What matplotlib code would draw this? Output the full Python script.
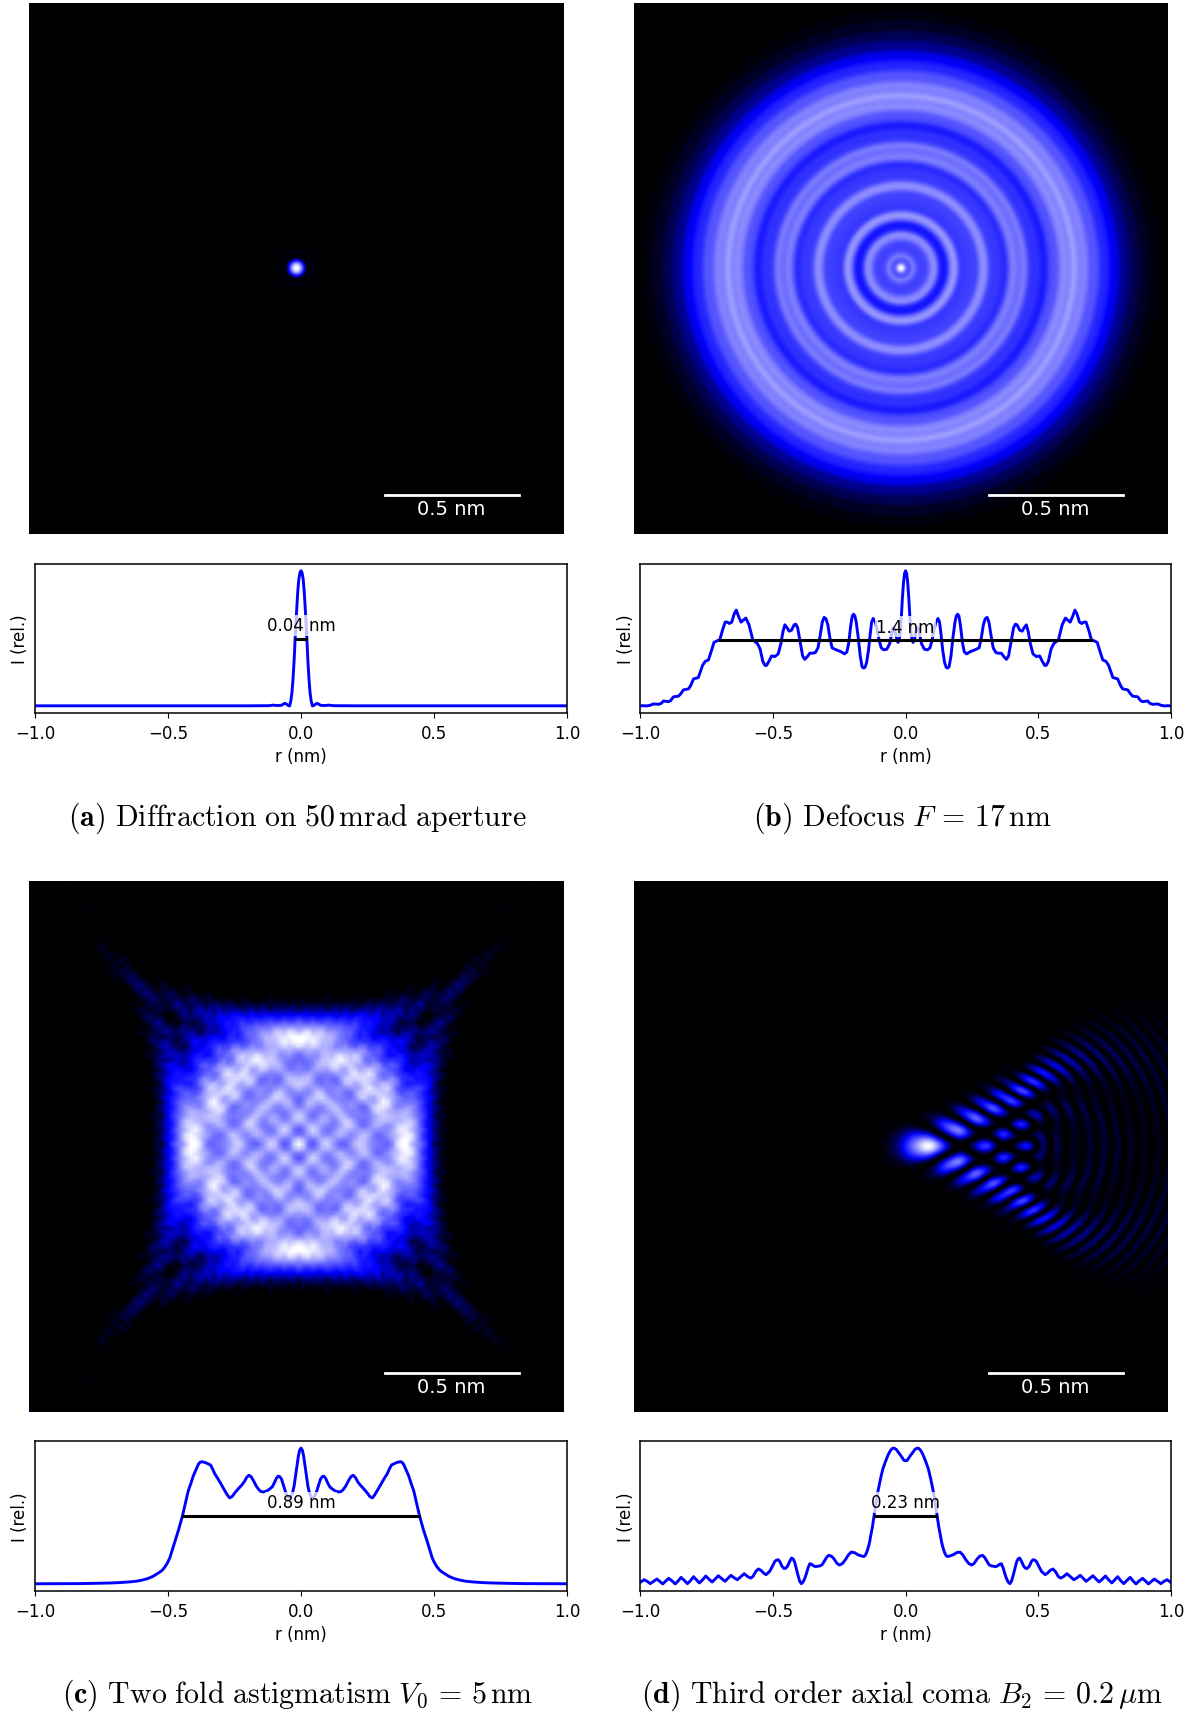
import numpy as np
import matplotlib
matplotlib.use("Agg")
import matplotlib.pyplot as plt
from matplotlib.colors import LinearSegmentedColormap

plt.rcParams['mathtext.fontset'] = 'cm'
plt.rcParams['font.family'] = 'DejaVu Sans'

# Radial profiles (|r| in nm, relative intensity)
r_a = [0, .004, .008, .012, .016, .019, .022, .026, .030, .034, .038, .043, .050, .055, .059, .063, .066, .070, .075, .09, .105, .12, .2, 1.0]
I_a = [1, .985, .94, .85, .72, .61, .50, .33, .20, .10, .04, .00, .006, .014, .018, .018, .014, .009, .004, .003, .006, .002, .001, .001]

r_b = [0, .004, .008, .012, .016, .020, .024, .028, .032, .038, .044, .049, .054, .060, .0706, .082, .092, .100, .108, .114, .122, .128, .134, .140, .147, .153, .158, .164, .171, .178, .186, .191, .196, .201, .207, .214, .221, .230, .242, .255, .267, .277, .285, .293, .300, .307, .314, .322, .330, .340, .350, .361, .370, .380, .388, .398, .407, .414, .420, .430, .439, .447, .455, .462, .470, .480, .493, .505, .515, .524, .530, .538, .548, .558, .567, .576, .590, .602, .611, .620, .629, .638, .646, .655, .664, .672, .680, .690, .700, .712, .722, .733, .743, .755, .765, .781, .790, .799, .810, .818, .828, .837, .847, .856, .866, .875, .885, .893, .903, .912, .920, .931, .940, .950, .962, .975, .990, 1.0]
I_b = [1.0, .98, .91, .80, .66, .55, .49, .47, .48, .54, .58, .57, .52, .46, .42, .415, .43, .49, .57, .62, .647, .62, .52, .41, .32, .285, .28, .29, .37, .50, .62, .665, .679, .665, .59, .47, .40, .385, .40, .41, .42, .43, .50, .60, .645, .655, .62, .52, .43, .395, .39, .39, .365, .345, .37, .48, .58, .605, .60, .56, .553, .58, .60, .55, .46, .385, .365, .37, .33, .30, .30, .33, .42, .46, .475, .49, .60, .65, .635, .62, .66, .709, .68, .62, .61, .62, .62, .56, .49, .48, .47, .40, .34, .33, .30, .21, .205, .20, .15, .126, .122, .119, .09, .072, .07, .067, .04, .032, .034, .037, .02, .012, .013, .015, .005, 0, .002, 0]

r_c = [0, .005, .01, .015, .02, .026, .033, .040, .046, .052, .057, .065, .073, .080, .086, .092, .100, .108, .117, .128, .14, .150, .157, .168, .18, .188, .196, .204, .214, .224, .236, .249, .258, .268, .277, .286, .295, .305, .314, .324, .332, .340, .350, .362, .374, .380, .386, .395, .405, .414, .424, .435, .446, .460, .474, .484, .493, .502, .512, .522, .530, .545, .557, .575, .593, .618, .643, .68, .715, .78, .845, 1.0]
I_c = [1, .985, .94, .87, .80, .72, .66, .635, .635, .65, .67, .72, .77, .79, .793, .78, .745, .715, .70, .685, .677, .68, .69, .72, .765, .79, .80, .785, .75, .725, .70, .67, .645, .633, .655, .685, .715, .75, .78, .81, .845, .875, .885, .895, .90, .895, .88, .84, .795, .74, .684, .59, .498, .40, .316, .25, .193, .155, .124, .10, .088, .07, .055, .04, .03, .02, .015, .01, .007, .004, .002, .001]

r_d = [0, .006, .013, .02, .026, .035, .044, .050, .056, .062, .067, .076, .086, .095, .104, .112, .119, .125, .13, .135, .139, .146, .152, .157, .165, .180, .192, .205, .215, .228, .238, .249, .258, .270, .280, .290, .298, .307, .315, .324, .332, .340, .348, .355, .361, .368, .374, .380, .387, .393, .399, .405, .411, .418, .424, .430, .437, .445, .452, .458, .466, .474, .480, .487, .493, .503, .513, .526, .535, .545, .555, .565, .575, .584, .596, .608, .62, .634, .646, .658, .67, .68, .693, .706, .718, .729, .741, .753, .765, .777, .788, .799, .81, .822, .834, .846, .857, .868, .88, .893, .904, .915, .926, .937, .95, .962, .973, .985, .993, 1.0]
I_d = [.906, .91, .93, .95, .965, .99, 1.0, .997, .985, .965, .945, .90, .845, .77, .684, .59, .498, .42, .37, .315, .28, .235, .21, .202, .205, .215, .23, .234, .215, .175, .15, .139, .15, .185, .205, .21, .195, .165, .14, .132, .13, .127, .135, .145, .149, .115, .075, .04, .012, .002, .02, .06, .107, .16, .185, .19, .165, .13, .115, .114, .13, .165, .178, .175, .165, .125, .09, .068, .08, .10, .11, .09, .055, .043, .055, .075, .055, .031, .045, .063, .04, .019, .04, .06, .035, .014, .035, .058, .03, .007, .03, .053, .025, .002, .026, .048, .022, 0, .022, .041, .02, 0, .018, .036, .018, .002, .018, .031, .02, .011]

fwhm_widths = [0.04, 1.4, 0.89, 0.23]
half_levels = [0.497, 0.487, 0.5, 0.5]
fwhm_labels = ['0.04 nm', '1.4 nm', '0.89 nm', '0.23 nm']
captions = [r'$\mathbf{(a)}$ $\mathrm{Diffraction\ on\ 50\,mrad\ aperture}$',
            r'$\mathbf{(b)}$ $\mathrm{Defocus}\ F\,=\,17\,\mathrm{nm}$',
            r'$\mathbf{(c)}$ $\mathrm{Two\ fold\ astigmatism}\ V_0\,=\,5\,\mathrm{nm}$',
            r'$\mathbf{(d)}$ $\mathrm{Third\ order\ axial\ coma}\ B_2\,=\,0.2\,\mu\mathrm{m}$']
xticks = [-1.0, -0.5, 0.0, 0.5, 1.0]

# Wave-optics parameters behind panels (c) and (d), nm and rad
wavelength = 3.7e-3
alpha = 0.05
V0 = 5.0
B2 = 200.0
gain_c = 1.1
power_c = 0.8
floor_c = 0.007
half_width = 0.985

W_FIG, H_FIG = 1196, 1715
cmap = LinearSegmentedColormap.from_list('psf', [(0, 'black'), (0.22, (0, 0, 1)), (1, 'white')])


def mirrored(r, v):
    r, v = np.asarray(r, float), np.asarray(v, float)
    return np.r_[-r[:0:-1], r], np.r_[v[:0:-1], v]


def radial_image(r, v, n=600):
    ax_ = np.linspace(-half_width, half_width, n)
    X, Y = np.meshgrid(ax_, ax_)
    return np.interp(np.hypot(X, Y), r, v, right=0)


def psf(path, dx=0.0173, scale=1):
    n = int(round(2 * half_width / dx)) * scale
    f = np.fft.fftfreq(n, dx) * wavelength
    tx, ty = np.meshgrid(f, f)
    A = (tx**2 + ty**2 <= alpha**2).astype(float)
    I = np.abs(np.fft.fftshift(np.fft.ifft2(A * np.exp(-2j * np.pi * path(tx, ty) / wavelength))))**2
    if scale > 1:
        m = n // 2
        h = n // (2 * scale)
        I = I[m - h:m + h, m - h:m + h]
    return I / I.max()


img_c = np.clip(gain_c * np.clip(psf(lambda tx, ty: 2 * V0 * tx * ty) - floor_c, 0, None)**power_c, 0, 1)
img_d = psf(lambda tx, ty: B2 * tx * (tx**2 + ty**2), dx=0.0043, scale=4)
images = [radial_image(r_a, I_a), radial_image(r_b, I_b), img_c, img_d]
profiles = [(r_a, I_a), (r_b, I_b), (r_c, I_c), (r_d, I_d)]
interpolations = ['bicubic', 'bicubic', 'bilinear', 'bicubic']

fig = plt.figure(figsize=(W_FIG / 100, H_FIG / 100), dpi=100, facecolor='white')


def add_ax(x0, x1, y0, y1):
    return fig.add_axes([x0 / W_FIG, 1 - y1 / H_FIG, (x1 - x0) / W_FIG, (y1 - y0) / H_FIG])


cols = [(29, 564, 35, 567), (634, 1168, 640.2, 1171)]
rows = [(4, 535, 565, 713.7, 756, 818), (882, 1413, 1442.3, 1591.7, 1634, 1695)]
for k in range(4):
    ix0, ix1, lx0, lx1 = cols[k % 2]
    iy0, iy1, ly0, ly1, _, cy = rows[k // 2]
    ax = add_ax(ix0, ix1, iy0, iy1)
    ax.imshow(images[k], cmap=cmap, vmin=0, vmax=1, origin='lower', interpolation=interpolations[k],
              extent=[-half_width, half_width, -half_width, half_width], aspect='auto')
    ax.plot([0.325, 0.82], [-0.84, -0.84], color='white', lw=2)
    ax.text(0.57, -0.89, '0.5 nm', color='white', fontsize=14, ha='center', va='center')
    ax.set_xlim(-half_width, half_width)
    ax.set_ylim(-half_width, half_width)
    ax.axis('off')

    ax = add_ax(lx0, lx1, ly0, ly1)
    x, y = mirrored(*profiles[k])
    ax.plot(x, y, color=(0, 0, 1), lw=2.1, zorder=2, solid_joinstyle='round')
    ax.plot([-fwhm_widths[k] / 2, fwhm_widths[k] / 2], [half_levels[k]] * 2, color='black', lw=2.2, zorder=3)
    ax.text(0, half_levels[k] + 0.10, fwhm_labels[k], fontsize=12, ha='center', va='center', zorder=4,
            bbox=dict(facecolor='white', alpha=0.75, edgecolor='none', pad=1))
    ax.set_xlim(-1, 1)
    ax.set_ylim(-0.05, 1.05)
    ax.set_xticks(xticks)
    ax.set_yticks([])
    ax.tick_params(labelsize=12, pad=4.5)
    ax.set_xlabel('r (nm)', fontsize=12, labelpad=4)
    ax.set_ylabel('I (rel.)', fontsize=12, labelpad=4)
    for s in ax.spines.values():
        s.set_linewidth(1.1)
    fig.text((lx0 + lx1) / 2 / W_FIG - 0.003, 1 - cy / H_FIG, captions[k], fontsize=21.5, ha='center', va='center')

fig.savefig('out.png', dpi=100)
